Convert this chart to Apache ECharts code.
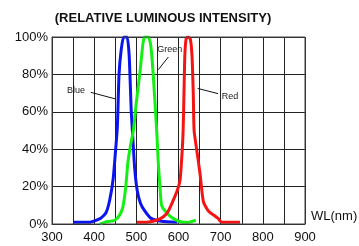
<!DOCTYPE html>
<html><head><meta charset="utf-8">
<script src="https://cdn.jsdelivr.net/npm/echarts@6/dist/echarts.min.js"></script>
<style>html,body{margin:0;padding:0;background:#fff}#c{width:359px;height:246px}</style>
</head><body><div id="c"></div>
<script>
const blue = [[352,1],[390,1],[415,3],[428,6],[437,13],[445,24],[451,40],[455,52],[459,80],[464,93],[470,100],[478,100],[483,90],[488,60],[492,45],[496,30],[502,18],[510,11],[520,7],[535,3],[560,1.5],[597,1]];
const green = [[414,0],[426,1],[449,2],[461,5],[468,9],[475,20],[480,33],[487,43],[493,50],[500,65],[509,82],[516,97],[520,100],[528,100],[534,96],[540,80],[549,47],[552,33],[556,20],[560,10],[572,6],[587,3],[611,1],[625,1],[641,2]];
const red = [[501,1],[525,1],[548,2],[565,4],[576,7],[592,15],[600,20],[604,24],[609,40],[611,50],[613,70],[615,90],[618,99],[622,100],[628,99],[632,90],[635,70],[637,50],[643,40],[651,27],[659,12],[671,7],[694,3],[702,1],[746,1]];
const labels = [{name:'Blue', at:[357,71.3], from:[392,70.4], to:[452,66.8]},
                {name:'Green', at:[579,93.2], from:[576,89.3], to:[552,82.5]},
                {name:'Red', at:[722,68.2], from:[645.5,72.5], to:[694,69.7]}];
const titleText = '(RELATIVE LUMINOUS INTENSITY)';
const xName = 'WL(nm)';

const chart = echarts.init(document.getElementById('c'));
const font = 'Liberation Sans, Arial, sans-serif';
function mk(name, data, color) {
  return {type:'line', name, data, symbol:'none', smooth:0.2,
    lineStyle:{color, width:3}, itemStyle:{color}, z:3};
}
chart.setOption({
  animation:false,
  title:{text:titleText, left:158, top:7, textAlign:'center',
    textStyle:{fontFamily:font, fontSize:13, fontWeight:'bold', color:'#111'}},
  grid:{left:52, right:54, top:37, bottom:22},
  xAxis:{type:'value', min:300, max:900, interval:50,
    axisLine:{lineStyle:{color:'#222', width:1}},
    axisTick:{show:false},
    axisLabel:{fontFamily:font, fontSize:13, color:'#111', margin:7,
      formatter:v => v%100===0 ? String(v) : ''},
    splitLine:{lineStyle:{color:'#222', width:1}}},
  yAxis:{type:'value', min:0, max:100, interval:20,
    axisLine:{show:true, lineStyle:{color:'#222', width:1}},
    axisTick:{show:false},
    axisLabel:{fontFamily:font, fontSize:13, color:'#111', margin:4, formatter:'{value}%'},
    splitLine:{lineStyle:{color:'#222', width:1}}},
  graphic:[{type:'text', left:311, top:210, style:{text:xName, font:'13px '+font, fill:'#111'}},
           {type:'rect', shape:{x:52,y:37,width:253,height:187}, style:{fill:'none', stroke:'#444', lineWidth:1}, z:10}],
  series:[mk('Blue', blue, '#0a14f0'), mk('Green', green, '#14f014'), mk('Red', red, '#f51414'),
    {type:'line', data:[], symbol:'none',
     markLine:{silent:true, symbol:'none', label:{show:false},
       lineStyle:{color:'#111', width:1, type:'solid'},
       data:labels.map(l => [{coord:l.from},{coord:l.to}])},
     markPoint:{silent:true, symbol:'circle', symbolSize:0,
       label:{show:true, position:'inside', fontFamily:font, fontSize:9, color:'#222', formatter:p=>p.name},
       data:labels.map(l => ({name:l.name, coord:l.at}))}}]
});
</script></body></html>
